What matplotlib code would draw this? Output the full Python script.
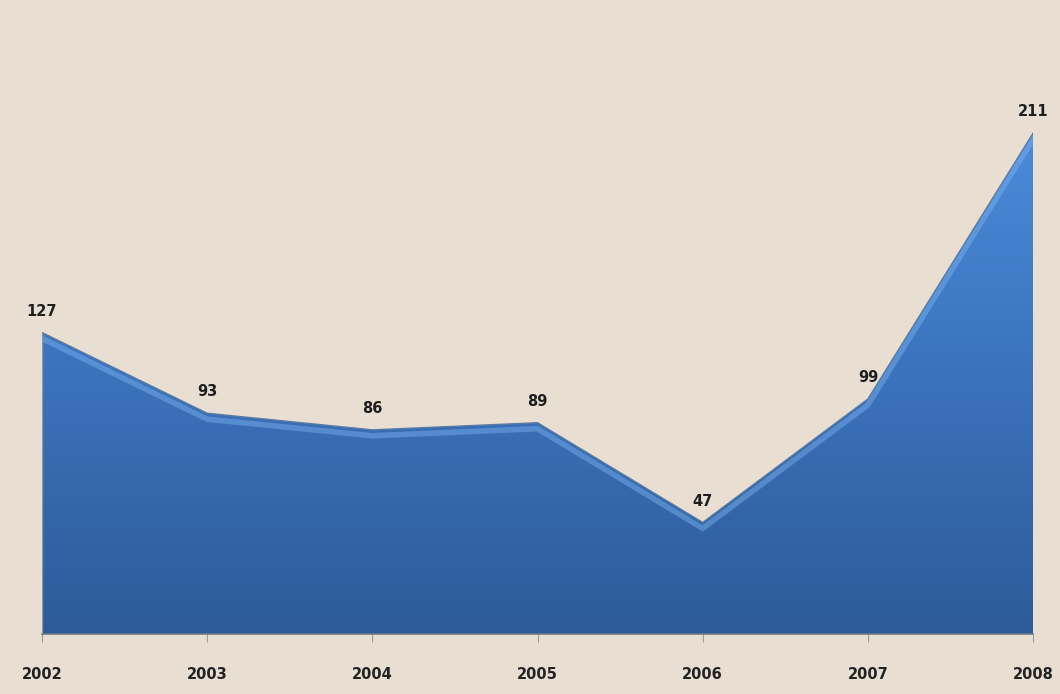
import numpy as np
import matplotlib.pyplot as plt
from matplotlib.patches import Polygon
from matplotlib.colors import LinearSegmentedColormap

years = ["2002", "2003", "2004", "2005", "2006", "2007", "2008"]
values = [127, 93, 86, 89, 47, 99, 211]

bg = "#e8dfd2"
fig = plt.figure(figsize=(10.6, 6.94), dpi=100, facecolor=bg)
ax = fig.add_axes([0.0396, 0.0865, 0.935, 0.855])
ax.set_facecolor(bg)

x = np.arange(len(years))
ax.set_xlim(x[0], x[-1])
ax.set_ylim(0, 250)

# gradient fill clipped to the area polygon
verts = [(x[0], 0)] + list(zip(x, values)) + [(x[-1], 0)]
poly = Polygon(verts, closed=True, facecolor="none", edgecolor="none")
ax.add_patch(poly)
grad = np.linspace(0, 1, 256).reshape(-1, 1)
cmap = LinearSegmentedColormap.from_list("blu", ["#2d5b98", "#3a72bb", "#4a8bd8"])
img = ax.imshow(grad, cmap=cmap, origin="lower", aspect="auto",
                extent=[x[0], x[-1], 0, max(values)], zorder=2)
img.set_clip_path(poly)

# soft bevel along the top edge
bevel = ax.plot(x, np.array(values) - 2.5, color="#7db4f2", lw=4, alpha=0.45,
                zorder=3)[0]
bevel.set_clip_path(poly)
ax.plot(x, values, color="#5a7aa3", lw=1.0, zorder=4)
ax.plot([x[0], x[0]], [0, values[0]], color="#8a96a8", lw=1, zorder=4)

for xi, v in zip(x, values):
    ax.annotate(str(v), (xi, v), xytext=(0, 10), textcoords="offset points",
                ha="center", va="bottom", fontsize=10.5, fontweight="bold",
                color="#1e1e1e", zorder=5)

for s in ["top", "right", "left"]:
    ax.spines[s].set_visible(False)
ax.spines["bottom"].set_color("#6f7885")
ax.spines["bottom"].set_linewidth(1.2)
ax.spines["bottom"].set_zorder(5)
ax.set_yticks([])
ax.set_xticks(x)
ax.set_xticklabels(years, fontsize=10.5, fontweight="bold", color="#222222")
ax.tick_params(axis="x", length=6, color="#9a9a9a", pad=18)

fig.savefig("out.png", dpi=100, facecolor=bg)
